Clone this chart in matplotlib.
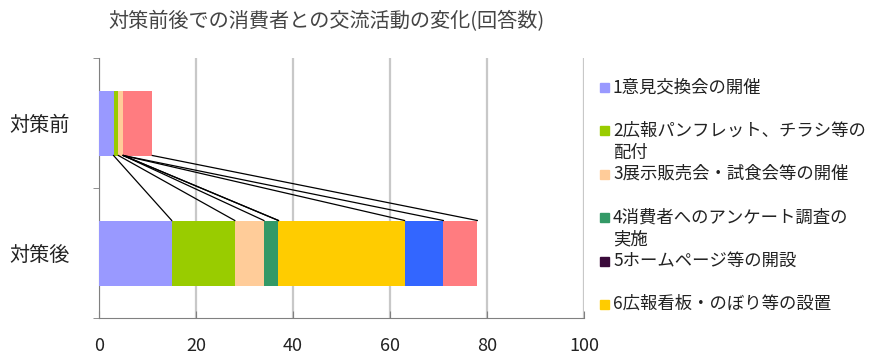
import numpy as np
import matplotlib.pyplot as plt
from matplotlib.patches import Rectangle

plt.rcParams['font.family'] = ['Noto Sans CJK JP', 'DejaVu Sans']

""" データ """
categories = ["対策前", "対策後"]
before = [3, 1, 1, 0, 0, 0, 0, 6]
after = [15, 13, 6, 3, 0, 26, 8, 7]
colors = ["#9999FF", "#99CC00", "#FFCC99", "#339966", "#3A0A3A", "#FFCC00", "#3366FF", "#FF7C80"]
legend_labels = [
    "1意見交換会の開催",
    "2広報パンフレット、チラシ等の\n配付",
    "3展示販売会・試食会等の開催",
    "4消費者へのアンケート調査の\n実施",
    "5ホームページ等の開設",
    "6広報看板・のぼり等の設置",
]
x_ticks = [0, 20, 40, 60, 80, 100]
title = "対策前後での消費者との交流活動の変化(回答数)"

W, H = 870, 356
fig = plt.figure(figsize=(W / 100, H / 100), dpi=100)
ax = fig.add_axes([99 / W, 38 / H, 485 / W, 260 / H])

""" 積み上げ横棒 """
values = np.array([before, after])
left = np.zeros(len(categories))
for j in range(values.shape[1]):
    ax.barh(range(len(categories)), values[:, j], left=left, height=0.5,
            color=colors[j], zorder=3)
    left += values[:, j]

""" 区分線 """
cum = np.cumsum(values, axis=1)
for j in range(cum.shape[1]):
    ax.plot([cum[0, j], cum[1, j]], [0.25, 0.75], color="black", lw=0.9, zorder=4)

ax.set_xlim(0, 100)
ax.set_ylim(1.5, -0.5)
ax.set_xticks(x_ticks)
ax.xaxis.grid(True, color="#c8c8c8", lw=1.6, zorder=0)
ax.tick_params(axis="x", direction="in", length=5, color="#808080",
               labelsize=13, pad=14, labelcolor="#222222")
ax.set_yticks(range(len(categories)))
ax.set_yticklabels(categories, fontsize=14.5, color="#222222")
ax.tick_params(axis="y", which="major", length=0, pad=21)
ax.set_yticks([-0.5, 0.5, 1.5], minor=True)
ax.tick_params(axis="y", which="minor", length=4, direction="out", color="#808080")
for s in ["top", "right"]:
    ax.spines[s].set_visible(False)
for s in ["left", "bottom"]:
    ax.spines[s].set_color("#808080")

fig.text(326 / W, 1 - 22 / H, title, ha="center", va="center",
         fontsize=14.5, color="#444444")

""" 凡例 """
for i, lab in enumerate(legend_labels):
    y = 88 + i * 43.4
    fig.patches.append(Rectangle((600 / W, 1 - (y + 4) / H), 9 / W, 9 / H,
                                 transform=fig.transFigure, color=colors[i]))
    fig.text(613 / W, 1 - (y - 10) / H, lab, ha="left", va="top",
             fontsize=12.5, color="#222222", linespacing=1.3)

fig.savefig("out.png", dpi=100)
